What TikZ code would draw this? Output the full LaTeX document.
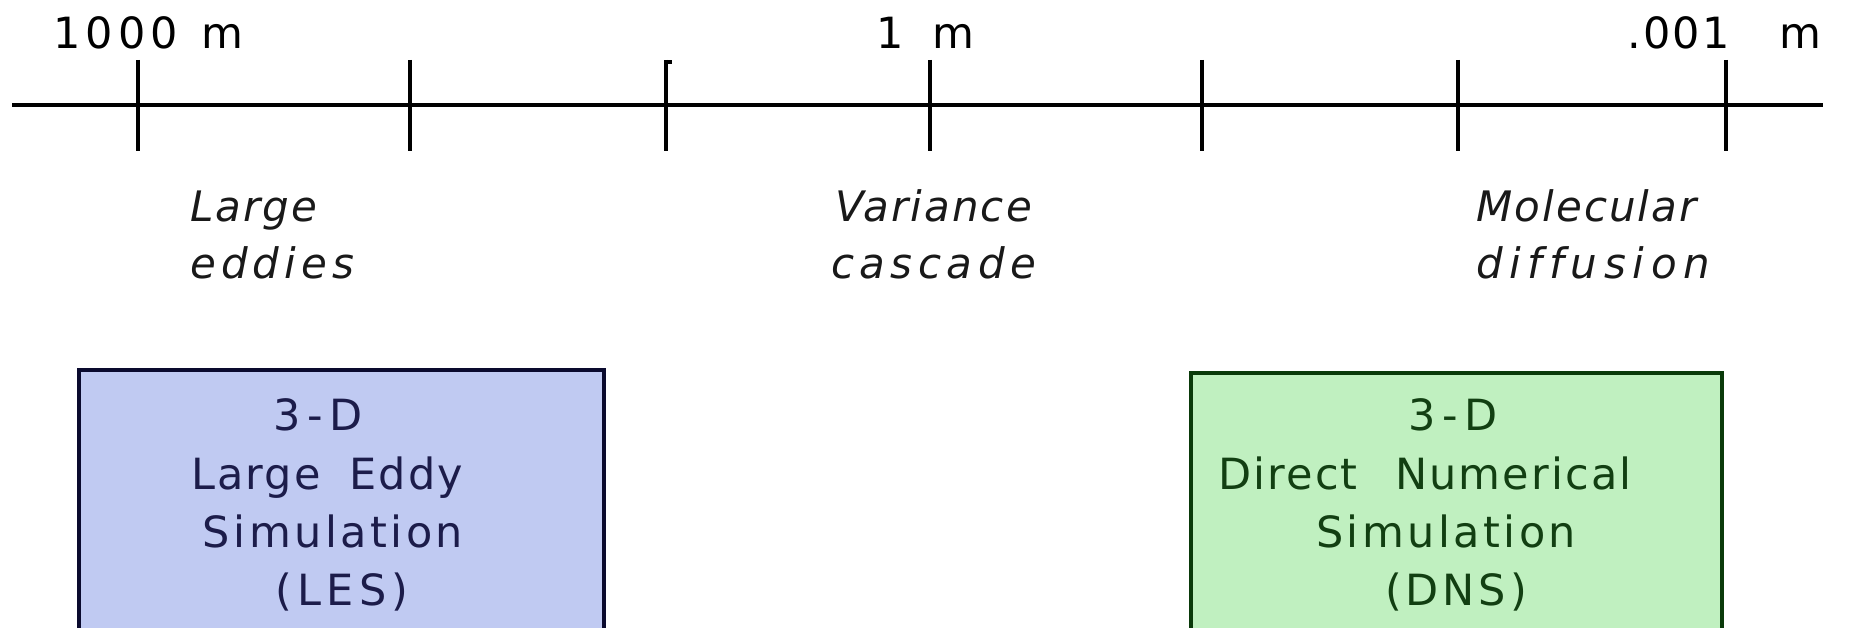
\documentclass[tikz,border=0pt]{standalone}
\usepackage{fontspec}
\setmainfont{DejaVu Sans}
\newfontfamily\scalefont{DejaVu Sans}[LetterSpace=5,Ligatures={NoCommon}]
\newcommand{\lsp}[1]{\addfontfeature{LetterSpace=#1}}
\definecolor{lesfill}{HTML}{C0CAF2}
\definecolor{lesline}{HTML}{0A0A2E}
\definecolor{lestext}{HTML}{1C1C4A}
\definecolor{dnsfill}{HTML}{C0F0C0}
\definecolor{dnsline}{HTML}{0A3A0A}
\definecolor{dnstext}{HTML}{123F12}
\tikzset{
  axisline/.style={line width=3.3pt, black},
  tickline/.style={line width=4pt, black},
  scalelbl/.style={font=\scalefont\fontsize{43}{50}\selectfont, inner sep=0pt, anchor=base west},
  rangelbl/.style={font=\scalefont\itshape\fontsize{42}{50}\selectfont, inner sep=0pt, anchor=base west, text=black!90},
  lesbox/.style={draw=lesline, fill=lesfill, line width=4pt, outer sep=0pt, anchor=north west, minimum width=525pt, minimum height=330pt, inner sep=0pt},
  dnsbox/.style={draw=dnsline, fill=dnsfill, line width=4pt, outer sep=0pt, anchor=north west, minimum width=531pt, minimum height=330pt, inner sep=0pt},
  lestxt/.style={font=\scalefont\fontsize{43}{50}\selectfont, text=lestext, inner sep=0pt, anchor=base},
  dnstxt/.style={font=\scalefont\fontsize{43}{50}\selectfont, text=dnstext, inner sep=0pt, anchor=base},
}
\begin{document}
\begin{tikzpicture}[x=1pt,y=-1pt]
\useasboundingbox (0,0) rectangle (1862,628);
\clip (0,0) rectangle (1862,628);
% axis
\coordinate (axL) at (12,105);
\coordinate (axR) at (1823,105);
\draw[axisline] (axL) -- (axR);
\foreach \i/\x in {1/138,2/410,3/666,4/930,5/1202,6/1458,7/1726}{
  \coordinate (t\i top) at (\x,60);
  \coordinate (t\i bot) at (\x,151);
  \draw[tickline] (t\i top) -- (t\i bot);
}
\fill[black] (666,60) rectangle (672,64);
% scale labels
\node[scalelbl] (s1000) at (53,49) {\lsp{12}1000};
\node[scalelbl] (s1000m) at (201,49) {m};
\node[scalelbl] (s1) at (876,49) {1};
\node[scalelbl] (s1m) at (932,49) {m};
\node[scalelbl] (s001) at (1627,49) {.001};
\node[scalelbl] (s001m) at (1779,49) {m};
% range labels
\node[rangelbl] (r1a) at (190,222) {Large};
\node[rangelbl] (r1b) at (190,279) {\lsp{12}eddies};
\node[rangelbl] (r2a) at (835,222) {Variance};
\node[rangelbl] (r2b) at (831,279) {\lsp{13}cascade};
\node[rangelbl] (r3a) at (1476,222) {Molecular};
\node[rangelbl] (r3b) at (1476,279) {\lsp{16}diffusion};
% boxes
\node[lesbox] (les) at (79,370) {};
\node[dnsbox] (dns) at (1191,373) {};
\node[lestxt] (les1) at (318,430) {\lsp{15}3-D};
\node[lestxt] (les2) at (327,489) {Large\hspace{0.3em} Eddy};
\node[lestxt] (les3) at (333,547) {\lsp{8}Simulation};
\node[lestxt] (les4) at (342,605) {\lsp{12}(LES)};
\node[dnstxt] (dns1) at (1453,430) {\lsp{15}3-D};
\node[dnstxt] (dns2) at (1425,489) {Direct\hspace{0.5em} Numerical};
\node[dnstxt] (dns3) at (1446,547) {\lsp{8}Simulation};
\node[dnstxt] (dns4) at (1456,605) {\lsp{9}(DNS)};
\end{tikzpicture}
\end{document}
